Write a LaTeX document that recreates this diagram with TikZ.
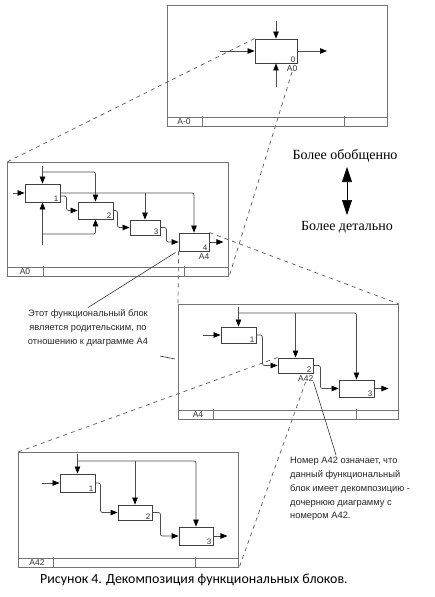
\documentclass[tikz,border=0pt]{standalone}
\usepackage{fontspec}
\setmainfont{Liberation Serif}
\newfontfamily\arialf{Liberation Sans}
\newfontfamily\capf{Carlito}
\usetikzlibrary{arrows.meta}
\begin{document}
\begin{tikzpicture}[x=1pt,y=-1pt,
  frm/.style={draw=black!55, line width=1pt, inner sep=0, anchor=north west},
  blk/.style={draw=black!75, line width=0.9pt, inner sep=0, minimum width=35, minimum height=17},
  ln/.style={draw=black!70, line width=0.7pt, rounded corners=2},
  arr/.style={ln, -{Triangle[length=7,width=5.5,color=black]}},
  dsh/.style={draw=black!65, dash pattern=on 4pt off 4pt, line width=0.7pt},
  ptr/.style={draw=black!80, line width=0.6pt},
  num/.style={font=\arialf\fontsize{8}{8}\selectfont, inner sep=0, text=black!80},
  lbl/.style={font=\arialf\fontsize{8.5}{9}\selectfont, inner sep=0, text=black!80},
  note/.style={font=\arialf\fontsize{9.3}{13.8}\selectfont, inner sep=0, text=black!85},
  big/.style={font=\fontsize{14}{14}\selectfont, inner sep=0},
]
\useasboundingbox (0,0) rectangle (434,597);

% ---------- frame A-0 ----------
\node[frm, minimum width=220, minimum height=121] (f1) at (167,5) {};
\draw[frm] ([yshift=10pt]f1.south west) -- ([yshift=10pt]f1.south east);
\draw[frm] (202,116) -- (202,126);
\draw[frm] (344,116) -- (344,126);
\node[lbl] (f1t) at (184,122) {A-0};
\node[blk, minimum width=42, minimum height=24] (b0) at (276,51) {};
\node[num, anchor=south east] (b0n) at ([xshift=-2pt,yshift=1pt]b0.south east) {0};
\node[lbl, anchor=north east] (b0l) at ([yshift=-2pt]b0.south east) {A0};
\coordinate (i0) at (220,51);
\coordinate (o0) at (327,51);
\coordinate (c0) at (276,21);
\coordinate (m0) at (276,87);
\draw[arr] (i0) -- (b0.west);
\draw[arr] (b0.east) -- (o0);
\draw[arr] (c0) -- (b0.north);
\draw[arr] (m0) -- (b0.south);

% ---------- frame A0 ----------
\node[frm, minimum width=221, minimum height=114] (f2) at (7,162) {};
\draw[frm] ([yshift=10pt]f2.south west) -- ([yshift=10pt]f2.south east);
\draw[frm] (43,266) -- (43,276);
\draw[frm] (184,266) -- (184,276);
\node[lbl] (f2t) at (25,272) {A0};
\node[blk] (b1) at (42.5,193) [minimum height=18] {};
\node[blk] (b2) at (95.5,210.5) {};
\node[blk, minimum width=30, minimum height=15] (b3) at (145,227.5) {};
\node[blk, minimum width=30, minimum height=18] (b4) at (194,242) {};
\node[num, anchor=south east] (b1n) at ([xshift=-2pt,yshift=1pt]b1.south east) {1};
\node[num, anchor=south east] (b2n) at ([xshift=-2pt,yshift=1pt]b2.south east) {2};
\node[num, anchor=south east] (b3n) at ([xshift=-2pt,yshift=1pt]b3.south east) {3};
\node[num, anchor=south east] (b4n) at ([xshift=-2pt,yshift=1pt]b4.south east) {4};
\node[lbl, anchor=north east] (b4l) at ([yshift=-2pt]b4.south east) {A4};
\coordinate (i1) at (13,193);
\coordinate (c1) at (42.5,166);
\coordinate (c1b) at (42.5,172);
\coordinate (m1) at (42.5,245);
\coordinate (m1b) at (42.5,234);
\draw[arr] (i1) -- (b1.west);
\draw[arr] (c1) -- (b1.north);
\draw[arr] (c1b) -| (b2.north);
\draw[arr] (b1.east) -| (b4.north);
\draw[arr] (b3.north |- b1.east) -- (b3.north);
\draw[arr] ([yshift=-3pt]b1.east) -- ++(6,0) |- (b2.west);
\draw[arr] (b2.east) -- ++(4,0) |- (b3.west);
\draw[arr] (b3.east) -- ++(6,0) |- (b4.west);
\draw[arr] (b4.east) -- ++(14,0);
\draw[arr] (m1) -- (b1.south);
\draw[arr] (m1b) -| (b2.south);

% links frame A-0 -> A0
\draw[dsh] (b0.north west) -- (f2.north west);
\draw[dsh] (b0l.south) -- (f2.south east);

% ---------- frame A4 ----------
\node[frm, minimum width=220, minimum height=115] (f3) at (178,304) {};
\draw[frm] ([yshift=10pt]f3.south west) -- ([yshift=10pt]f3.south east);
\draw[frm] (213,409) -- (213,419);
\draw[frm] (356,409) -- (356,419);
\node[lbl] (f3t) at (198,415) {A4};
\node[blk, minimum height=16] (e1) at (238.5,335) {};
\node[blk, minimum height=15] (e2) at (295.5,365.5) {};
\node[blk] (e3) at (356.5,388.5) {};
\node[num, anchor=south east] (e1n) at ([xshift=-2pt,yshift=1pt]e1.south east) {1};
\node[num, anchor=south east] (e2n) at ([xshift=-2pt,yshift=1pt]e2.south east) {2};
\node[num, anchor=south east] (e3n) at ([xshift=-2pt,yshift=1pt]e3.south east) {3};
\node[lbl, anchor=north east] (e2l) at ([yshift=-2pt]e2.south east) {A42};
\coordinate (i3) at (203,335);
\coordinate (c3) at (238.5,307);
\coordinate (c3b) at (238.5,313);
\draw[arr] (i3) -- (e1.west);
\draw[arr] (c3) -- (e1.north);
\draw[arr] (c3b) -| (e3.north);
\draw[arr] (e2.north |- c3b) -- (e2.north);
\draw[arr] (e1.east) -- ++(6,0) |- (e2.west);
\draw[arr] (e2.east) -- ++(7,0) |- (e3.west);
\draw[arr] (e3.east) -- ++(14,0);

% links A0 -> A4
\draw[dsh] (b4.south west) -- (f3.north west);
\draw[dsh] (b4.north east) -- (f3.north east);

% ---------- frame A42 ----------
\node[frm, minimum width=220, minimum height=115] (f4) at (18,452) {};
\draw[frm] ([yshift=10pt]f4.south west) -- ([yshift=10pt]f4.south east);
\draw[frm] (53,557) -- (53,567);
\draw[frm] (195,557) -- (195,567);
\node[lbl] (f4t) at (37,563) {A42};
\node[blk, minimum height=18] (d1) at (77.5,483) {};
\node[blk, minimum width=34, minimum height=15] (d2) at (135,512.5) {};
\node[blk, minimum width=34, minimum height=18] (d3) at (196,536) {};
\node[num, anchor=south east] (d1n) at ([xshift=-2pt,yshift=1pt]d1.south east) {1};
\node[num, anchor=south east] (d2n) at ([xshift=-2pt,yshift=1pt]d2.south east) {2};
\node[num, anchor=south east] (d3n) at ([xshift=-2pt,yshift=1pt]d3.south east) {3};
\coordinate (i4) at (42,483);
\coordinate (c4) at (77.5,454);
\coordinate (c4b) at (77.5,461);
\draw[arr] (i4) -- (d1.west);
\draw[arr] (c4) -- (d1.north);
\draw[arr] (c4b) -| (d3.north);
\draw[arr] (d2.north |- c4b) -- (d2.north);
\draw[arr] (d1.east) -- ++(5,0) |- (d2.west);
\draw[arr] (d2.east) -- ++(8,0) |- (d3.west);
\draw[arr] (d3.east) -- ++(14,0);

% links A4 -> A42
\draw[dsh] (e2.north west) -- (f4.north west);
\draw[dsh] (e2l.south) -- (f4.south east);

% ---------- notes ----------
\node[note, align=center] (t1) at (88,328) {Этот функциональный блок\\является родительским, по\\отношению к диаграмме А4};
\draw[ptr] ([xshift=-3pt,yshift=-1pt]b4.south west) -- ([yshift=2pt]t1.north);
\coordinate (k1) at (160,356);
\coordinate (k2) at (175,359);
\draw[ptr] (k1) -- (k2);

\node[note, align=left, anchor=north west] (t2) at (290,457) {Номер А42 означает, что\\данный функциональный\\блок имеет декомпозицию -\\дочернюю диаграмму с\\номером А42.};
\coordinate (p2) at (336,455);
\draw[ptr] (e2l.south east) -- (p2);

% ---------- direction ----------
\node[big] (gen) at (345,156) {Более обобщенно};
\node[big] (det) at (347,227) {Более детально};
\coordinate (up) at (347,167);
\coordinate (dn) at (347,215);
\draw[line width=0.6pt, {Triangle[length=15,width=10]}-{Triangle[length=15,width=10]}] (up) -- (dn);

% ---------- caption ----------
\node[anchor=west, inner sep=0, font=\capf\fontsize{13.9}{14}\selectfont] (cap) at (40,580) {Рисунок 4. Декомпозиция функциональных блоков.};
\end{tikzpicture}
\end{document}
